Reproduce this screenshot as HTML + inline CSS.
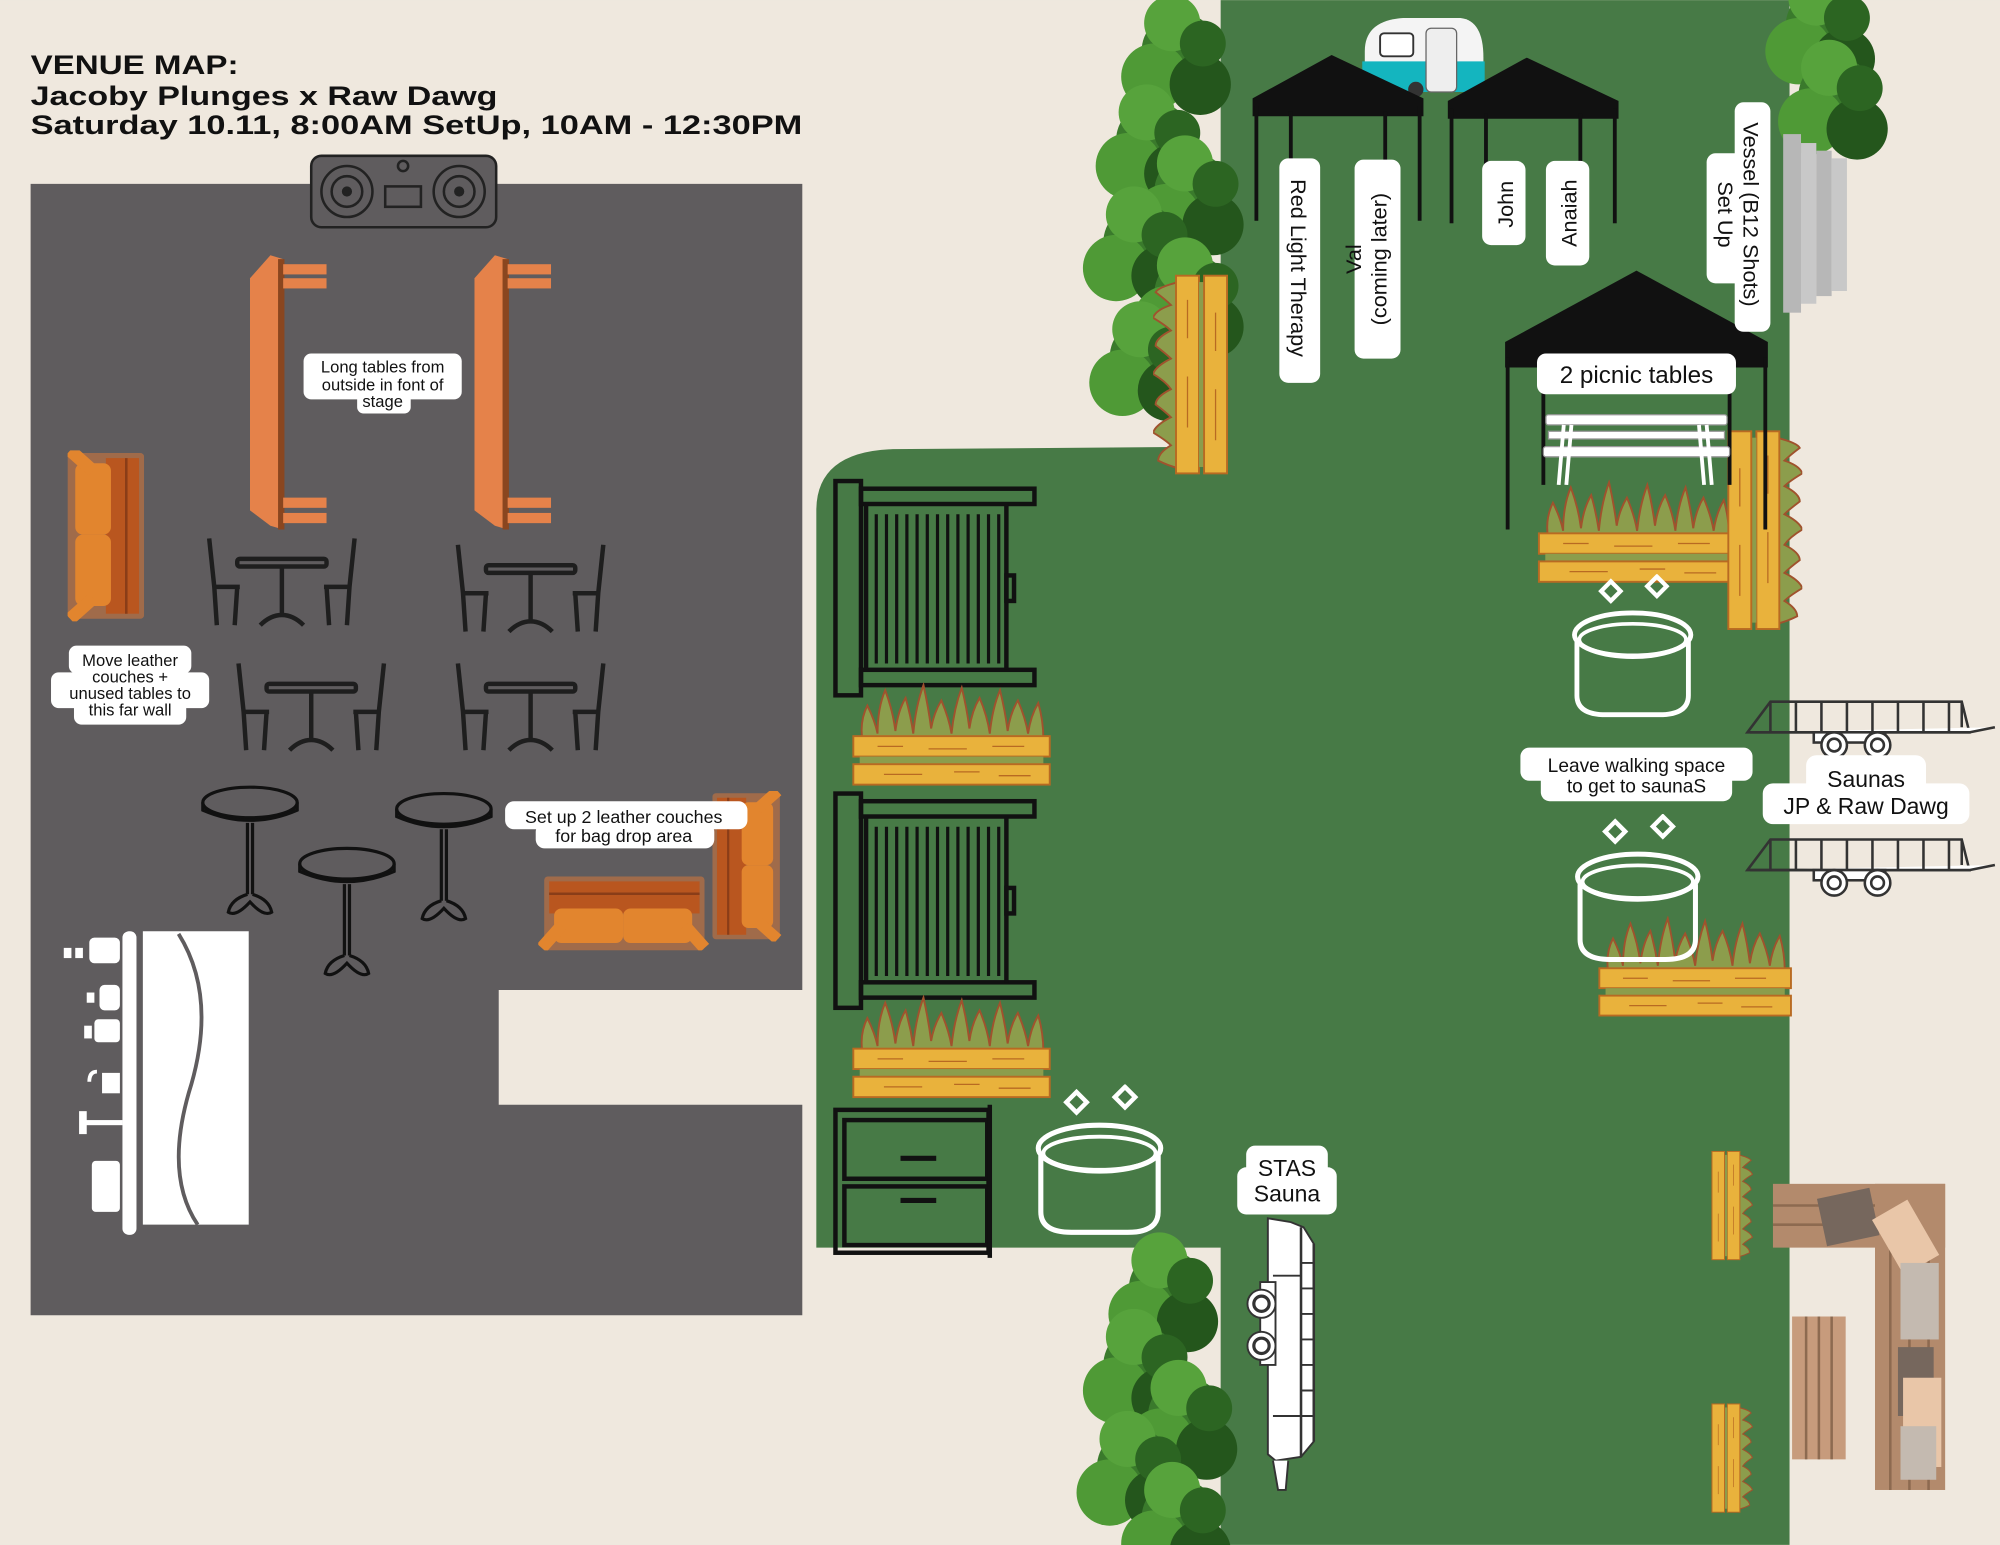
<!DOCTYPE html>
<html><head><meta charset="utf-8"><style>html,body{margin:0;padding:0;background:#efe8de}svg{display:block}</style></head>
<body>
<svg width="2000" height="1545" viewBox="0 0 1568 1211" xmlns="http://www.w3.org/2000/svg" font-family="'Liberation Sans', sans-serif">
<defs>
<symbol id="ph" viewBox="0 0 156 82">
 <path d="M8 44 Q6 30 12 18 Q18 30 20 40 Q20 20 26 6 Q32 22 34 38 Q36 22 42 12 Q46 26 48 40 Q50 18 56 2 Q60 20 62 36 Q64 24 70 14 Q76 28 78 40 Q80 20 86 4 Q90 20 92 36 Q94 22 100 12 Q106 26 108 40 Q110 20 116 6 Q120 22 122 38 Q124 24 130 14 Q136 28 138 40 Q140 26 146 16 Q150 30 150 44 Z" fill="#8c9d4c" stroke="#a0522d" stroke-width="1.5"/>
 <rect x="1" y="42" width="154" height="16" fill="#e9b23c" stroke="#b86a22" stroke-width="1.5"/>
 <rect x="6" y="58" width="144" height="6" fill="#8c9d4c"/>
 <rect x="1" y="64" width="154" height="16" fill="#e9b23c" stroke="#b86a22" stroke-width="1.5"/>
 <path d="M20 50h20M60 52h30M110 50h25M25 72h30M80 70h20M115 73h25" stroke="#b86a22" stroke-width="1"/>
</symbol>
<symbol id="pv" viewBox="0 0 60 157">
 <path d="M20 6 Q4 10 2 14 Q10 20 14 24 Q2 28 0 34 Q10 40 14 44 Q2 50 2 56 Q10 62 14 66 Q2 72 0 78 Q10 84 14 90 Q2 96 2 102 Q10 108 14 112 Q2 118 0 124 Q10 130 14 134 Q4 140 4 146 Q12 150 20 152 Z" fill="#8c9d4c" stroke="#a0522d" stroke-width="1.5"/>
 <rect x="18" y="1" width="18" height="155" fill="#e9b23c" stroke="#b86a22" stroke-width="1.5"/>
 <rect x="36" y="6" width="4" height="145" fill="#8c9d4c"/>
 <rect x="40" y="1" width="18" height="155" fill="#e9b23c" stroke="#b86a22" stroke-width="1.5"/>
 <path d="M27 20v30M27 80v40M49 30v30M49 90v40" stroke="#b86a22" stroke-width="1"/>
</symbol>
<symbol id="tub" viewBox="0 0 104 120">
 <path d="M26 14 l8 -8 l8 8 l-8 8z M64 10 l8 -8 l8 8 l-8 8z" fill="none" stroke="#fff" stroke-width="3.5"/>
 <ellipse cx="52" cy="50" rx="48" ry="18" fill="none" stroke="#fff" stroke-width="4"/>
 <ellipse cx="52" cy="54" rx="44" ry="13" fill="none" stroke="#fff" stroke-width="3"/>
 <path d="M6 56 V100 Q6 116 30 116 H74 Q98 116 98 100 V56" fill="none" stroke="#fff" stroke-width="4"/>
</symbol>
<symbol id="tc" viewBox="0 0 122 72">
 <g fill="none" stroke="#1e1e1e" stroke-width="3.5">
 <path d="M4 2 L8 40 L10 70 M8 40 H28 M26 40 L24 70"/>
 <path d="M118 2 L114 40 L112 70 M114 40 H94 M96 40 L98 70"/>
 <rect x="26" y="18" width="70" height="6" rx="2"/>
 <path d="M61 24 V62 M61 62 Q52 62 44 70 M61 62 Q70 62 78 70"/>
 </g>
</symbol>
<symbol id="rt" viewBox="0 0 78 106">
 <g fill="none" stroke="#111" stroke-width="2.5">
 <ellipse cx="39" cy="14" rx="37" ry="12"/>
 <path d="M2 14 v6 Q39 36 76 20 v-6"/>
 <path d="M37 30 V86 M41 30 V86 M37 86 Q24 90 22 100 Q28 104 39 92 Q50 104 56 100 Q54 90 41 86"/>
 </g>
</symbol>
<symbol id="tr" viewBox="0 0 200 52">
 <g fill="#fff" stroke="#333" stroke-width="2">
 <path d="M2 30 L20 6 H170 L176 30 H2 Z" fill="none"/>
 <path d="M4 30 H176 L196 26 M170 6 V26"/>
 <path d="M20 6 V30 M40 6 V30 M60 6V30 M80 6V30 M100 6V30 M120 6V30 M140 6V30 M160 6V30" />
 <rect x="54" y="30" width="56" height="8"/>
 <circle cx="70" cy="40" r="10"/><circle cx="70" cy="40" r="5" fill="none"/>
 <circle cx="104" cy="40" r="10"/><circle cx="104" cy="40" r="5" fill="none"/>
 </g>
</symbol>
<symbol id="gate" viewBox="0 0 160 172">
 <g fill="none" stroke="#111" stroke-width="3.5">
 <rect x="2" y="2" width="20" height="168"/>
 <rect x="22" y="8" width="136" height="12"/>
 <rect x="22" y="150" width="136" height="12"/>
 <path d="M26 20 V150 M136 20 V150"/>
 <rect x="136" y="76" width="6" height="20"/>
 </g>
 <path d="M34 28V145 M42 28V145 M50 28V145 M58 28V145 M66 28V145 M74 28V145 M82 28V145 M90 28V145 M98 28V145 M106 28V145 M114 28V145 M122 28V145 M130 28V145" stroke="#111" stroke-width="2.5"/>
</symbol>
<symbol id="tent" viewBox="0 0 134 130">
 <path d="M0 34 L62 0 L134 34 V48 H0 Z" fill="#111"/>
 <path d="M3 40 V130 M30 44 V100 M104 44 V100 M131 40 V130" stroke="#111" stroke-width="3"/>
</symbol>
<symbol id="couch" viewBox="0 0 60 134">
 <rect x="0" y="2" width="60" height="130" rx="3" fill="#a06b4a"/>
 <rect x="30" y="6" width="26" height="122" fill="#b9561f"/>
 <rect x="6" y="10" width="28" height="56" rx="6" fill="#e2852e"/>
 <rect x="6" y="66" width="28" height="56" rx="6" fill="#e2852e"/>
 <path d="M2 0 L20 16 M2 132 L20 116" stroke="#e2852e" stroke-width="10"/>
 <path d="M46 6V128" stroke="#8a3d18" stroke-width="2"/>
</symbol>
<g id="tree">
 <circle cx="0" cy="0" r="30" fill="#3a7a2c"/><circle cx="-20" cy="20" r="26" fill="#4f9a36"/><circle cx="16" cy="26" r="24" fill="#24561c"/><circle cx="-6" cy="-22" r="22" fill="#57a33c"/><circle cx="18" cy="-6" r="18" fill="#2c6522"/>
</g>
</defs>

<rect width="1568" height="1211" fill="#efe8de"/>

<g font-weight="bold" font-size="21" fill="#111">
<text x="24" y="58" textLength="163" lengthAdjust="spacingAndGlyphs">VENUE MAP:</text>
<text x="24" y="82" textLength="366" lengthAdjust="spacingAndGlyphs">Jacoby Plunges x Raw Dawg</text>
<text x="24" y="105" textLength="605" lengthAdjust="spacingAndGlyphs">Saturday 10.11, 8:00AM SetUp, 10AM - 12:30PM</text>
</g>

<path d="M24 144 H629 V776 H391 V866 H629 V1031 H24 Z" fill="#5f5c5e"/>

<g fill="none" stroke="#222" stroke-width="2">
<rect x="244" y="122" width="145" height="56" rx="8" fill="#5f5c5e"/>
<circle cx="272" cy="150" r="20"/><circle cx="272" cy="150" r="12"/><circle cx="272" cy="150" r="3" fill="#222"/>
<circle cx="360" cy="150" r="20"/><circle cx="360" cy="150" r="12"/><circle cx="360" cy="150" r="3" fill="#222"/>
<circle cx="316" cy="130" r="4"/><rect x="302" y="146" width="28" height="16"/>
</g>

<g>
<path d="M212 200 L222 203 V415 L212 412 L196 400 V218 Z" fill="#e5824a"/>
<rect x="218" y="203" width="5" height="212" fill="#8a461f"/>
<rect x="222" y="207" width="34" height="8" fill="#e5824a"/><rect x="222" y="218" width="34" height="8" fill="#e5824a"/>
<rect x="222" y="390" width="34" height="8" fill="#e5824a"/><rect x="222" y="402" width="34" height="8" fill="#e5824a"/>
<path d="M388 200 L398 203 V415 L388 412 L372 400 V218 Z" fill="#e5824a"/>
<rect x="394" y="203" width="5" height="212" fill="#8a461f"/>
<rect x="398" y="207" width="34" height="8" fill="#e5824a"/><rect x="398" y="218" width="34" height="8" fill="#e5824a"/>
<rect x="398" y="390" width="34" height="8" fill="#e5824a"/><rect x="398" y="402" width="34" height="8" fill="#e5824a"/>
</g>

<use href="#couch" x="53" y="353" width="60" height="134"/>

<use href="#tc" x="160" y="420" width="122" height="72"/>
<use href="#tc" x="355" y="425" width="122" height="72"/>
<use href="#tc" x="183" y="518" width="122" height="72"/>
<use href="#tc" x="355" y="518" width="122" height="72"/>

<use href="#rt" x="157" y="615" width="78" height="106"/>
<use href="#rt" x="233" y="663" width="78" height="106"/>
<use href="#rt" x="309" y="620" width="78" height="106"/>

<use href="#couch" x="557" y="620" width="56" height="118" transform="translate(1170 0) scale(-1 1)"/>
<g transform="translate(422 745) rotate(-90)"><use href="#couch" x="0" y="0" width="58" height="135"/></g>

<path d="M112 730 H195 V960 H112 Z" fill="#fff"/>
<path d="M140 732 Q170 780 150 850 Q128 920 155 960" fill="none" stroke="#5f5c5e" stroke-width="3"/>
<rect x="96" y="730" width="11" height="238" rx="5" fill="#fff"/>
<g fill="#fff">
<rect x="70" y="735" width="24" height="20" rx="4"/><rect x="50" y="743" width="6" height="8"/><rect x="59" y="743" width="6" height="8"/>
<rect x="78" y="772" width="16" height="20" rx="4"/><rect x="68" y="778" width="6" height="8"/>
<rect x="74" y="799" width="20" height="18" rx="3"/><rect x="66" y="804" width="6" height="10"/>
<rect x="80" y="841" width="14" height="16"/><path d="M70 848 q0 -8 6 -8" stroke="#fff" stroke-width="3" fill="none"/>
<rect x="62" y="871" width="6" height="18"/><rect x="66" y="878" width="30" height="4"/>
<rect x="72" y="910" width="22" height="40" rx="3"/>
</g>

<g font-size="13" fill="#111" text-anchor="middle">
<rect x="238" y="277" width="124" height="36" rx="6" fill="#fff"/><rect x="280" y="300" width="42" height="24" rx="5" fill="#fff"/>
<text x="300" y="292">Long tables from</text><text x="300" y="306">outside in font of</text><text x="300" y="319">stage</text>
<rect x="54" y="506" width="96" height="22" rx="6" fill="#fff"/><rect x="40" y="527" width="124" height="28" rx="6" fill="#fff"/><rect x="58" y="548" width="88" height="20" rx="6" fill="#fff"/>
<text x="102" y="522">Move leather</text><text x="102" y="535">couches +</text><text x="102" y="548">unused tables to</text><text x="102" y="561">this far wall</text>
<rect x="396" y="628" width="190" height="22" rx="7" fill="#fff"/><rect x="420" y="645" width="140" height="20" rx="7" fill="#fff"/>
<text x="489" y="645" font-size="14">Set up 2 leather couches</text><text x="489" y="660" font-size="14">for bag drop area</text>
</g>

<path d="M957 0 H1403 V1211 H957 V978 H640 V400 Q640 354 700 352 L957 350 Z" fill="#477a46"/>

<g>
<use href="#tree" x="925" y="40"/><use href="#tree" x="905" y="110"/><use href="#tree" x="935" y="150"/><use href="#tree" x="895" y="190"/><use href="#tree" x="935" y="230"/><use href="#tree" x="900" y="280"/>
<use href="#tree" x="1430" y="20"/><use href="#tree" x="1440" y="75"/>
<use href="#tree" x="915" y="1010"/><use href="#tree" x="895" y="1070"/><use href="#tree" x="930" y="1110"/><use href="#tree" x="890" y="1150"/><use href="#tree" x="925" y="1190"/>
</g>

<g fill="#b7b7b7"><rect x="1398" y="105" width="14" height="140"/><rect x="1412" y="112" width="12" height="126" fill="#c8c8c8"/><rect x="1424" y="118" width="12" height="114"/><rect x="1436" y="124" width="12" height="104" fill="#c8c8c8"/></g>

<use href="#gate" x="653" y="375" width="160" height="172"/>
<use href="#gate" x="653" y="620" width="160" height="172"/>
<g fill="none" stroke="#111" stroke-width="3.5">
<rect x="655" y="870" width="120" height="112"/><rect x="662" y="878" width="112" height="46"/><rect x="662" y="930" width="112" height="46"/>
<path d="M776 866 V986"/></g>
<path d="M706 908h28M706 941h28" stroke="#111" stroke-width="4"/>

<use href="#ph" x="668" y="535" width="156" height="82"/>
<use href="#ph" x="668" y="780" width="156" height="82"/>
<use href="#ph" x="1205" y="376" width="157" height="82"/>
<use href="#ph" x="1250" y="718" width="158" height="80"/>
<use href="#pv" x="904" y="215" width="60" height="157"/>
<g transform="translate(2783 0) scale(-1 1)"><use href="#pv" x="1370" y="337" width="60" height="157"/></g>
<g transform="translate(2715 0) scale(-1 1)"><use href="#pv" x="1337" y="902" width="41" height="86"/><use href="#pv" x="1337" y="1100" width="41" height="86"/></g>

<use href="#tub" x="810" y="850" width="104" height="120"/>
<use href="#tub" x="1230" y="450" width="100" height="114"/>
<use href="#tub" x="1232" y="638" width="104" height="118"/>

<g>
<path d="M1070 40 Q1070 16 1100 14 H1145 Q1163 16 1163 45 V72 H1070 Z" fill="#f4f4f4"/>
<path d="M1068 48 H1164 V72 H1068 Z" fill="#14b5bf"/>
<rect x="1082" y="26" width="26" height="18" rx="3" fill="#fff" stroke="#333" stroke-width="1.5"/>
<rect x="1118" y="22" width="24" height="50" rx="4" fill="#eee" stroke="#666"/>
<circle cx="1110" cy="70" r="6" fill="#333"/>
</g>

<use href="#tent" x="982" y="43" width="134" height="130"/>
<use href="#tent" x="1135" y="45" width="134" height="130"/>
<g><path d="M1180 268 L1283 212 L1386 268 V288 H1180 Z" fill="#111"/>
<path d="M1182 280 V415 M1384 280 V415 M1210 290 V380 M1356 290 V380" stroke="#111" stroke-width="3"/></g>

<g fill="#fff" stroke="#999" stroke-width="1">
<rect x="1212" y="325" width="142" height="8" rx="2"/><rect x="1214" y="338" width="138" height="6"/>
<rect x="1210" y="350" width="146" height="8" rx="2"/>
<path d="M1226 333 L1222 380 M1232 333 L1228 380 M1338 333 L1342 380 M1332 333 L1336 380" stroke="#fff" stroke-width="3"/>
</g>

<use href="#tr" x="1368" y="544" width="200" height="52"/>
<use href="#tr" x="1368" y="652" width="200" height="52"/>

<!-- vertical STAS trailer -->
<g stroke="#333" stroke-width="1.5">
<path d="M994 955 L1012 958 L1022 962 L1030 975 V1130 L1020 1142 L1000 1145 L994 1140 Z" fill="#fff"/>
<path d="M1020 962 V1142 M1030 975 V1130" fill="none" stroke-width="2"/>
<path d="M1020 990 H1030 M1020 1010 H1030 M1020 1030 H1030 M1020 1050 H1030 M1020 1070 H1030 M1020 1090 H1030 M1020 1110 H1030" />
<path d="M998 1000 H1020 M998 1110 H1020" fill="none"/>
<path d="M998 1145 L1002 1168 L1008 1168 L1010 1145" fill="#fff"/>
<path d="M988 1005 H1000 V1070 H988 Z" fill="#fff"/>
<circle cx="989" cy="1022" r="11" fill="#fff"/><circle cx="989" cy="1022" r="6" fill="none" stroke-width="2.5"/>
<circle cx="989" cy="1055" r="11" fill="#fff"/><circle cx="989" cy="1055" r="6" fill="none" stroke-width="2.5"/>
</g>

<g>
<rect x="1390" y="928" width="135" height="50" fill="#b38a6c"/>
<rect x="1470" y="928" width="55" height="240" fill="#b38a6c"/>
<path d="M1390 945 H1470 M1390 960 H1470 M1482 978 V1168 M1497 978 V1168 M1512 978 V1168" stroke="#8d6a50" stroke-width="2"/>
<rect x="1405" y="1032" width="42" height="112" fill="#c79b7c"/>
<path d="M1416 1032V1144M1426 1032V1144M1436 1032V1144" stroke="#8d6a50" stroke-width="2"/>
<rect x="1428" y="935" width="42" height="38" fill="#76675d" transform="rotate(-12 1449 954)"/>
<rect x="1478" y="945" width="32" height="50" fill="#e9c6a8" transform="rotate(-30 1494 970)"/>
<rect x="1490" y="990" width="30" height="60" fill="#c4bab0"/>
<rect x="1488" y="1056" width="28" height="54" fill="#76675d"/>
<rect x="1492" y="1080" width="30" height="70" fill="#e9c6a8"/>
<rect x="1490" y="1118" width="28" height="42" fill="#c4bab0"/>
</g>

<g fill="#111" font-size="18">
<rect x="1003" y="124" width="32" height="176" rx="7" fill="#fff"/>
<text transform="translate(1012 210) rotate(90)" text-anchor="middle" font-size="17">Red Light Therapy</text>
<rect x="1062" y="125" width="36" height="156" rx="7" fill="#fff"/>
<text transform="translate(1067 203) rotate(-90)" text-anchor="middle" font-size="17"><tspan x="0" dy="0">Val</tspan><tspan x="0" dy="20">(coming later)</tspan></text>
<rect x="1162" y="126" width="34" height="66" rx="7" fill="#fff"/>
<text transform="translate(1186 160) rotate(-90)" text-anchor="middle" font-size="17">John</text>
<rect x="1212" y="126" width="34" height="82" rx="7" fill="#fff"/>
<text transform="translate(1236 167) rotate(-90)" text-anchor="middle" font-size="17">Anaiah</text>
<rect x="1360" y="80" width="28" height="180" rx="7" fill="#fff"/><rect x="1338" y="120" width="30" height="102" rx="7" fill="#fff"/>
<text transform="translate(1367 168) rotate(90)" text-anchor="middle" font-size="17"><tspan x="0" dy="0">Vessel (B12 Shots)</tspan><tspan x="0" dy="20">Set Up</tspan></text>
<rect x="1205" y="277" width="156" height="32" rx="7" fill="#fff"/>
<text x="1283" y="300" text-anchor="middle" font-size="19">2 picnic tables</text>
<rect x="1192" y="586" width="182" height="26" rx="7" fill="#fff"/><rect x="1208" y="604" width="150" height="24" rx="7" fill="#fff"/>
<text x="1283" y="605" text-anchor="middle" font-size="15">Leave walking space</text><text x="1283" y="621" text-anchor="middle" font-size="15">to get to saunaS</text>
<rect x="1416" y="592" width="94" height="30" rx="8" fill="#fff"/><rect x="1382" y="614" width="162" height="32" rx="8" fill="#fff"/>
<text x="1463" y="617" text-anchor="middle" font-size="18">Saunas</text><text x="1463" y="638" text-anchor="middle" font-size="18">JP &amp; Raw Dawg</text>
<rect x="977" y="898" width="64" height="24" rx="7" fill="#fff"/><rect x="970" y="915" width="78" height="37" rx="7" fill="#fff"/>
<text x="1009" y="922" text-anchor="middle" font-size="18">STAS</text><text x="1009" y="942" text-anchor="middle" font-size="18">Sauna</text>
</g>
</svg>
</body></html>
